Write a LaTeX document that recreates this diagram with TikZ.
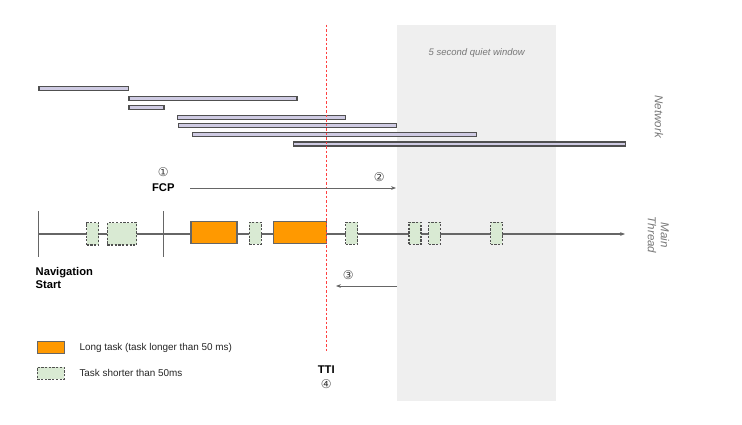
\documentclass[tikz,border=0pt]{standalone}
\usepackage{fontspec}
\setmainfont{Liberation Sans}
\newfontfamily\dvfont{DejaVu Sans}
\usetikzlibrary{arrows.meta}
\definecolor{netfill}{HTML}{CFCBE3}
\definecolor{netdraw}{HTML}{505050}
\definecolor{lgfill}{HTML}{FF9900}
\definecolor{shfill}{HTML}{D9EAD3}
\definecolor{axis}{HTML}{666666}
\definecolor{quiet}{HTML}{EFEFEF}
\definecolor{lbl}{HTML}{777777}
\tikzset{
  netbar/.style={draw=netdraw, fill=netfill, line width=1.1pt, inner sep=0pt, minimum height=4pt},
  longtask/.style={draw=axis, fill=lgfill, line width=1.1pt, inner sep=0pt},
  shorttask/.style={draw=netdraw, fill=shfill, dashed, dash pattern=on 2.2pt off 1.5pt, line width=1.1pt, inner sep=0pt},
  axisline/.style={draw=axis, line width=1.1pt},
  arrowline/.style={draw=axis, line width=0.9pt, -{Stealth[length=5pt,width=3.8pt]}},
  circnum/.style={font=\dvfont\fontsize{12}{12}\selectfont, text=black!75, inner sep=0pt},
  boldlbl/.style={font=\bfseries\fontsize{11.2}{13.3}\selectfont, inner sep=0pt},
  greylbl/.style={font=\itshape\fontsize{11.5}{12}\selectfont, text=lbl, inner sep=0pt},
  legendtxt/.style={font=\fontsize{9.9}{11}\selectfont, text=black!85, inner sep=0pt, anchor=west}
}
\begin{document}
\begin{tikzpicture}[x=1pt,y=-1pt]
\useasboundingbox[fill=white] (0,0) rectangle (742,424);
% quiet window
\fill[quiet] (396.7,24.7) rectangle (555.7,400.7);
\node[greylbl, font=\itshape\fontsize{9.5}{10}\selectfont] (qw) at (476.7,53.3) {5 second quiet window};
% network bars
\node[netbar, minimum width=89.7pt] (n1) at (83.85,88.7) {};
\node[netbar, minimum width=168pt] (n2) at (213,98.9) {};
\node[netbar, minimum width=35pt] (n3) at (146.5,107.7) {};
\node[netbar, minimum width=168.4pt] (n4) at (261.5,117.2) {};
\node[netbar, minimum width=218.4pt] (n5) at (287.5,125.3) {};
\node[netbar, minimum width=284.4pt] (n6) at (334.5,134.7) {};
\node[netbar, minimum width=332pt] (n7) at (459.7,144) {};
\node[greylbl, rotate=-90] (net) at (659,116.7) {Network};
% main thread axis
\coordinate (ms) at (38.7,234);
\coordinate (me) at (625,234);
\coordinate (t1a) at (38.7,211);
\coordinate (t1b) at (38.7,256.7);
\coordinate (t2a) at (163.7,211);
\coordinate (t2b) at (163.7,256.7);
\draw[axisline, -{Stealth[length=5pt,width=3.8pt]}] (ms) -- (me);
\draw[axisline] (t1a) -- (t1b);
\draw[axisline] (t2a) -- (t2b);
% tasks
\node[shorttask, minimum width=12pt, minimum height=22.3pt] (s1) at (92.7,233.8) {};
\node[shorttask, minimum width=29.4pt, minimum height=22.3pt] (s2) at (122,233.8) {};
\node[longtask, minimum width=46pt, minimum height=21.6pt] (l1) at (214,232.5) {};
\node[shorttask, minimum width=11.7pt, minimum height=22.3pt] (s3) at (255.2,233.3) {};
\node[longtask, minimum width=53.3pt, minimum height=21.6pt] (l2) at (299.7,232.5) {};
\node[shorttask, minimum width=12pt, minimum height=22.3pt] (s4) at (351.7,233.3) {};
\node[shorttask, minimum width=12pt, minimum height=22.3pt] (s5) at (415,233.3) {};
\node[shorttask, minimum width=11.6pt, minimum height=22.3pt] (s6) at (434.5,233.3) {};
\node[shorttask, minimum width=11.6pt, minimum height=22.3pt] (s7) at (496.5,233.3) {};
\node[greylbl, rotate=-90, align=center, font=\itshape\fontsize{11.5}{13}\selectfont] (mt) at (658.5,235) {Main\\Thread};
% TTI line
\coordinate (ttitop) at (326.3,24.7);
\coordinate (ttibot) at (326.3,353);
\draw[red!75, line width=0.9pt, dash pattern=on 2.5pt off 2pt] (ttitop) -- (ttibot);
% FCP
\node[circnum] (c1) at (163.3,172) {①};
\node[boldlbl] (fcp) at (163.3,188) {FCP};
\coordinate (a2s) at (190.3,188);
\coordinate (a2e) at (396,188);
\draw[arrowline] (a2s) -- (a2e);
\node[circnum] (c2) at (379.3,176.7) {②};
% arrow 3
\coordinate (a3s) at (397,286);
\coordinate (a3e) at (336,286);
\draw[arrowline] (a3s) -- (a3e);
\node[circnum] (c3) at (348.3,275) {③};
% navigation start
\node[boldlbl, anchor=north west, align=left] (nav) at (35.5,267) {Navigation\\Start};
% TTI label
\node[boldlbl] (tti) at (326.3,369.3) {TTI};
\node[circnum] (c4) at (326.3,384) {④};
% legend
\node[longtask, minimum width=26.7pt, minimum height=12pt] (lgl) at (50.7,347.7) {};
\node[legendtxt] (lgt) at (79.3,347.7) {Long task (task longer than 50 ms)};
\node[shorttask, minimum width=26.7pt, minimum height=12pt] (lgs) at (50.7,373.2) {};
\node[legendtxt] (lst) at (79.3,372.5) {Task shorter than 50ms};
\end{tikzpicture}
\end{document}
